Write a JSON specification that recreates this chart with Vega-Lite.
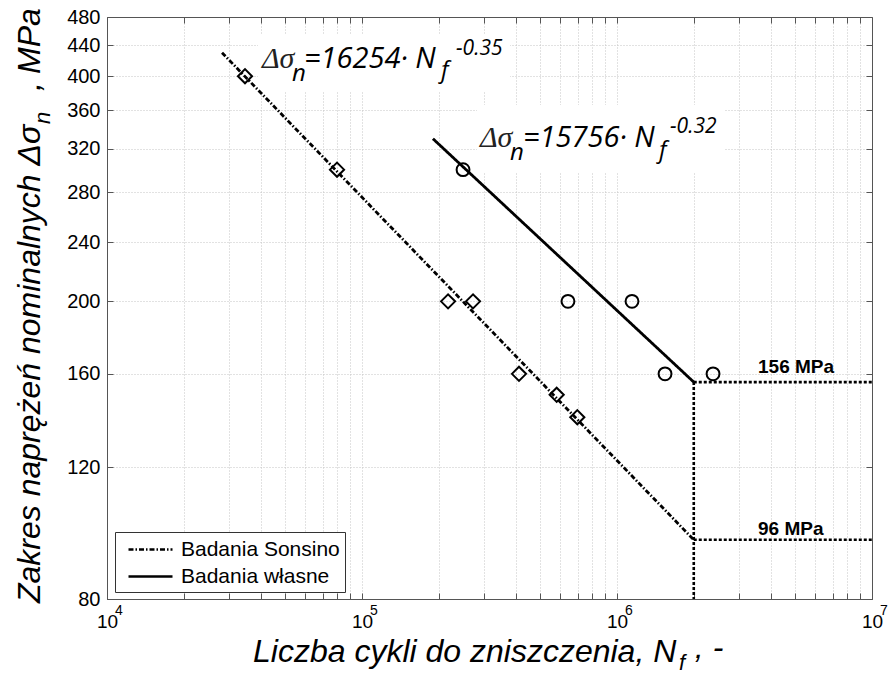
{
  "$schema": "https://vega.github.io/schema/vega-lite/v6.json",
  "width": 765,
  "height": 582,
  "autosize": {"type": "none"},
  "padding": {"left": 107, "top": 17, "right": 16, "bottom": 79},
  "background": "white",
  "config": {
    "view": {"stroke": "#555555", "strokeWidth": 1},
    "font": "Liberation Sans",
    "legend": {
      "orient": "none",
      "legendX": 8,
      "legendY": 515,
      "strokeColor": "#333333",
      "fillColor": "white",
      "padding": 5,
      "rowPadding": 4,
      "symbolOffset": 18,
      "labelOffset": 18,
      "labelFontSize": 21,
      "labelFont": "Liberation Sans",
      "labelColor": "black",
      "labelLimit": 400,
      "symbolType": "M-2,0H2",
      "symbolSize": 484,
      "symbolStrokeWidth": 2.5,
      "symbolStrokeColor": "black",
      "title": null
    }
  },
  "datasets": {
    "fits": [
      {"N": 28250, "S": 430, "series": "Badania Sonsino"},
      {"N": 2000000, "S": 96, "series": "Badania Sonsino"},
      {"N": 189700, "S": 330, "series": "Badania własne"},
      {"N": 2000000, "S": 156, "series": "Badania własne"}
    ],
    "points": [
      {"N": 34770, "S": 400, "study": "Sonsino"},
      {"N": 79800, "S": 300, "study": "Sonsino"},
      {"N": 217500, "S": 200, "study": "Sonsino"},
      {"N": 272500, "S": 200, "study": "Sonsino"},
      {"N": 412700, "S": 160, "study": "Sonsino"},
      {"N": 580000, "S": 150, "study": "Sonsino"},
      {"N": 698800, "S": 140, "study": "Sonsino"},
      {"N": 249000, "S": 300, "study": "własne"},
      {"N": 642300, "S": 200, "study": "własne"},
      {"N": 1145000, "S": 200, "study": "własne"},
      {"N": 1543000, "S": 160, "study": "własne"},
      {"N": 2380000, "S": 160, "study": "własne"}
    ],
    "limits": [
      {"N": 2000000, "S": 156, "N2": 10000000, "S2": 156},
      {"N": 2000000, "S": 96, "N2": 10000000, "S2": 96},
      {"N": 2000000, "S": 156, "N2": 2000000, "S2": 80}
    ],
    "boxes": [
      {"N": 39100, "S": 381.1, "N2": 380500, "S2": 454.2},
      {"N": 282500, "S": 297.9, "N2": 2652000, "S2": 366.1}
    ],
    "texts": [
      {"N": 40530, "S": 410.3, "text": "Δσ", "part": "delta"},
      {"N": 53150, "S": 394.1, "text": "n", "part": "eqsub"},
      {"N": 59230, "S": 410.3, "text": "=16254· N", "part": "eq"},
      {"N": 204100, "S": 397.8, "text": "f", "part": "eqsub"},
      {"N": 233700, "S": 427.0, "text": "-0.35", "part": "eqsup"},
      {"N": 290200, "S": 321.7, "text": "Δσ", "part": "delta"},
      {"N": 380500, "S": 309.1, "text": "n", "part": "eqsub"},
      {"N": 427900, "S": 321.7, "text": "=15756· N", "part": "eq"},
      {"N": 1461000, "S": 311.0, "text": "f", "part": "eqsub"},
      {"N": 1614000, "S": 335.9, "text": "-0.32", "part": "eqsup"},
      {"N": 3572000, "S": 160.4, "text": "156 MPa", "part": "limit"},
      {"N": 3572000, "S": 97.4, "text": "96 MPa", "part": "limit"},
      {"N": 37370, "S": 65.9, "text": "Liczba cykli do zniszczenia, N", "part": "xtitle"},
      {"N": 1751000, "S": 64.29, "text": "f", "part": "xtitlesub"},
      {"N": 2020000, "S": 66.71, "text": ", -", "part": "xtitle"},
      {"N": 5461, "S": 79.02, "text": "Zakres naprężeń nominalnych Δσ", "part": "ytitle"},
      {"N": 5976, "S": 345.3, "text": "n", "part": "ytitlesub"},
      {"N": 5461, "S": 382.2, "text": ",", "part": "ytitle"},
      {"N": 5461, "S": 402.8, "text": "MPa", "part": "ytitle"},
      {"N": 10749, "S": 76.2, "text": "4", "part": "xexp"},
      {"N": 107490, "S": 76.2, "text": "5", "part": "xexp"},
      {"N": 1074900, "S": 76.2, "text": "6", "part": "xexp"},
      {"N": 10749000, "S": 76.2, "text": "7", "part": "xexp"}
    ]
  },
  "layer": [
    {
      "data": {"name": "boxes"},
      "mark": {"type": "rect", "fill": "white", "stroke": null},
      "encoding": {
        "x": {
          "field": "N", "type": "quantitative",
          "scale": {"type": "log", "domain": [10000, 10000000], "nice": false, "zero": false},
          "axis": {
            "orient": "bottom",
            "values": [10000, 20000, 30000, 40000, 50000, 60000, 70000, 80000, 90000, 100000, 200000, 300000, 400000, 500000, 600000, 700000, 800000, 900000, 1000000, 2000000, 3000000, 4000000, 5000000, 6000000, 7000000, 8000000, 9000000, 10000000],
            "labelExpr": "datum.value == 10000 || datum.value == 100000 || datum.value == 1000000 || datum.value == 10000000 ? '10' : ''",
            "labelDx": -5,
            "title": null,
            "grid": true,
            "gridColor": "#c4c4c4",
            "gridDash": [1, 2],
            "gridWidth": 1,
            "domainColor": "#555555",
            "tickColor": "#555555",
            "tickSize": -6,
            "labelPadding": 19,
            "labelFontSize": 19,
            "labelColor": "black",
            "labelFont": "Liberation Sans",
            "labelOverlap": false,
            "labelFlush": false,
            "labelBound": false
          }
        },
        "x2": {"field": "N2"},
        "y": {
          "field": "S", "type": "quantitative",
          "scale": {"type": "log", "domain": [80, 480], "nice": false, "zero": false},
          "axis": {
            "orient": "left",
            "values": [80, 120, 160, 200, 240, 280, 320, 360, 400, 440, 480],
            "title": null,
            "grid": true,
            "gridColor": "#c4c4c4",
            "gridDash": [1, 2],
            "gridWidth": 1,
            "domainColor": "#555555",
            "tickColor": "#555555",
            "tickSize": -6,
            "labelPadding": 13,
            "labelFontSize": 20,
            "labelColor": "black",
            "labelFont": "Liberation Sans",
            "labelOverlap": false,
            "labelFlush": false,
            "labelBound": false
          }
        },
        "y2": {"field": "S2"}
      }
    },
    {
      "data": {"name": "limits"},
      "mark": {"type": "rule", "color": "black", "strokeWidth": 2.6, "strokeDash": [3, 2]},
      "encoding": {
        "x": {
          "field": "N", "type": "quantitative",
          "scale": {"type": "log", "domain": [10000, 10000000], "nice": false, "zero": false},
          "axis": {
            "orient": "top",
            "values": [20000, 30000, 40000, 50000, 60000, 70000, 80000, 90000, 100000, 200000, 300000, 400000, 500000, 600000, 700000, 800000, 900000, 1000000, 2000000, 3000000, 4000000, 5000000, 6000000, 7000000, 8000000, 9000000],
            "labels": false, "title": null, "grid": false,
            "domainColor": "#555555", "tickColor": "#555555", "tickSize": -6
          }
        },
        "x2": {"field": "N2"},
        "y": {
          "field": "S", "type": "quantitative",
          "scale": {"type": "log", "domain": [80, 480], "nice": false, "zero": false},
          "axis": {
            "orient": "right",
            "values": [120, 160, 200, 240, 280, 320, 360, 400, 440],
            "labels": false, "title": null, "grid": false,
            "domainColor": "#555555", "tickColor": "#555555", "tickSize": -6
          }
        },
        "y2": {"field": "S2"}
      }
    },
    {
      "data": {"name": "fits"},
      "mark": {"type": "line", "color": "black", "strokeWidth": 2.8},
      "encoding": {
        "x": {"field": "N", "type": "quantitative", "scale": {"type": "log", "domain": [10000, 10000000], "nice": false, "zero": false}, "axis": null},
        "y": {"field": "S", "type": "quantitative", "scale": {"type": "log", "domain": [80, 480], "nice": false, "zero": false}, "axis": null},
        "strokeDash": {
          "field": "series", "type": "nominal",
          "scale": {"domain": ["Badania Sonsino", "Badania własne"], "range": [[5, 2, 1.5, 2], [1, 0]]},
          "legend": {"title": null}
        }
      }
    },
    {
      "data": {"name": "points"},
      "transform": [{"filter": "datum.study == 'Sonsino'"}],
      "mark": {"type": "point", "shape": "diamond", "filled": false, "color": "black", "strokeWidth": 2, "size": 200, "opacity": 1},
      "encoding": {
        "x": {"field": "N", "type": "quantitative", "scale": {"type": "log", "domain": [10000, 10000000], "nice": false, "zero": false}, "axis": null},
        "y": {"field": "S", "type": "quantitative", "scale": {"type": "log", "domain": [80, 480], "nice": false, "zero": false}, "axis": null}
      }
    },
    {
      "data": {"name": "points"},
      "transform": [{"filter": "datum.study == 'własne'"}],
      "mark": {"type": "point", "shape": "circle", "filled": false, "color": "black", "strokeWidth": 2, "size": 165, "opacity": 1},
      "encoding": {
        "x": {"field": "N", "type": "quantitative", "scale": {"type": "log", "domain": [10000, 10000000], "nice": false, "zero": false}, "axis": null},
        "y": {"field": "S", "type": "quantitative", "scale": {"type": "log", "domain": [80, 480], "nice": false, "zero": false}, "axis": null}
      }
    },
    {
      "data": {"name": "texts"},
      "transform": [{"filter": "datum.part == 'delta'"}],
      "mark": {"type": "text", "font": "Liberation Serif", "fontStyle": "italic", "fontSize": 30, "align": "left", "baseline": "alphabetic", "color": "#222222"},
      "encoding": {
        "x": {"field": "N", "type": "quantitative", "scale": {"type": "log", "domain": [10000, 10000000], "nice": false, "zero": false}, "axis": null},
        "y": {"field": "S", "type": "quantitative", "scale": {"type": "log", "domain": [80, 480], "nice": false, "zero": false}, "axis": null},
        "text": {"field": "text"}
      }
    },
    {
      "data": {"name": "texts"},
      "transform": [{"filter": "datum.part == 'eq'"}],
      "mark": {"type": "text", "font": "Open Sans", "fontStyle": "italic", "fontSize": 29, "align": "left", "baseline": "alphabetic", "color": "black"},
      "encoding": {
        "x": {"field": "N", "type": "quantitative", "scale": {"type": "log", "domain": [10000, 10000000], "nice": false, "zero": false}, "axis": null},
        "y": {"field": "S", "type": "quantitative", "scale": {"type": "log", "domain": [80, 480], "nice": false, "zero": false}, "axis": null},
        "text": {"field": "text"}
      }
    },
    {
      "data": {"name": "texts"},
      "transform": [{"filter": "datum.part == 'eqsub'"}],
      "mark": {"type": "text", "font": "Open Sans", "fontStyle": "italic", "fontSize": 24, "align": "left", "baseline": "alphabetic", "color": "black"},
      "encoding": {
        "x": {"field": "N", "type": "quantitative", "scale": {"type": "log", "domain": [10000, 10000000], "nice": false, "zero": false}, "axis": null},
        "y": {"field": "S", "type": "quantitative", "scale": {"type": "log", "domain": [80, 480], "nice": false, "zero": false}, "axis": null},
        "text": {"field": "text"}
      }
    },
    {
      "data": {"name": "texts"},
      "transform": [{"filter": "datum.part == 'eqsup'"}],
      "mark": {"type": "text", "font": "Open Sans", "fontStyle": "italic", "fontSize": 21, "align": "left", "baseline": "alphabetic", "color": "black"},
      "encoding": {
        "x": {"field": "N", "type": "quantitative", "scale": {"type": "log", "domain": [10000, 10000000], "nice": false, "zero": false}, "axis": null},
        "y": {"field": "S", "type": "quantitative", "scale": {"type": "log", "domain": [80, 480], "nice": false, "zero": false}, "axis": null},
        "text": {"field": "text"}
      }
    },
    {
      "data": {"name": "texts"},
      "transform": [{"filter": "datum.part == 'limit'"}],
      "mark": {"type": "text", "font": "Liberation Sans", "fontWeight": "bold", "fontSize": 19, "align": "left", "baseline": "alphabetic", "color": "black"},
      "encoding": {
        "x": {"field": "N", "type": "quantitative", "scale": {"type": "log", "domain": [10000, 10000000], "nice": false, "zero": false}, "axis": null},
        "y": {"field": "S", "type": "quantitative", "scale": {"type": "log", "domain": [80, 480], "nice": false, "zero": false}, "axis": null},
        "text": {"field": "text"}
      }
    },
    {
      "data": {"name": "texts"},
      "transform": [{"filter": "datum.part == 'xexp'"}],
      "mark": {"type": "text", "font": "Liberation Sans", "fontSize": 14, "align": "left", "baseline": "alphabetic", "color": "black"},
      "encoding": {
        "x": {"field": "N", "type": "quantitative", "scale": {"type": "log", "domain": [10000, 10000000], "nice": false, "zero": false}, "axis": null},
        "y": {"field": "S", "type": "quantitative", "scale": {"type": "log", "domain": [80, 480], "nice": false, "zero": false}, "axis": null},
        "text": {"field": "text"}
      }
    },
    {
      "data": {"name": "texts"},
      "transform": [{"filter": "datum.part == 'xtitle'"}],
      "mark": {"type": "text", "font": "Liberation Sans", "fontStyle": "italic", "fontSize": 32, "align": "left", "baseline": "alphabetic", "color": "black"},
      "encoding": {
        "x": {"field": "N", "type": "quantitative", "scale": {"type": "log", "domain": [10000, 10000000], "nice": false, "zero": false}, "axis": null},
        "y": {"field": "S", "type": "quantitative", "scale": {"type": "log", "domain": [80, 480], "nice": false, "zero": false}, "axis": null},
        "text": {"field": "text"}
      }
    },
    {
      "data": {"name": "texts"},
      "transform": [{"filter": "datum.part == 'xtitlesub'"}],
      "mark": {"type": "text", "font": "Liberation Sans", "fontStyle": "italic", "fontSize": 22, "align": "left", "baseline": "alphabetic", "color": "black"},
      "encoding": {
        "x": {"field": "N", "type": "quantitative", "scale": {"type": "log", "domain": [10000, 10000000], "nice": false, "zero": false}, "axis": null},
        "y": {"field": "S", "type": "quantitative", "scale": {"type": "log", "domain": [80, 480], "nice": false, "zero": false}, "axis": null},
        "text": {"field": "text"}
      }
    },
    {
      "data": {"name": "texts"},
      "transform": [{"filter": "datum.part == 'ytitle'"}],
      "mark": {"type": "text", "font": "Liberation Sans", "fontStyle": "italic", "fontSize": 32, "align": "left", "baseline": "alphabetic", "angle": 270, "color": "black"},
      "encoding": {
        "x": {"field": "N", "type": "quantitative", "scale": {"type": "log", "domain": [10000, 10000000], "nice": false, "zero": false}, "axis": null},
        "y": {"field": "S", "type": "quantitative", "scale": {"type": "log", "domain": [80, 480], "nice": false, "zero": false}, "axis": null},
        "text": {"field": "text"}
      }
    },
    {
      "data": {"name": "texts"},
      "transform": [{"filter": "datum.part == 'ytitlesub'"}],
      "mark": {"type": "text", "font": "Liberation Sans", "fontStyle": "italic", "fontSize": 22, "align": "left", "baseline": "alphabetic", "angle": 270, "color": "black"},
      "encoding": {
        "x": {"field": "N", "type": "quantitative", "scale": {"type": "log", "domain": [10000, 10000000], "nice": false, "zero": false}, "axis": null},
        "y": {"field": "S", "type": "quantitative", "scale": {"type": "log", "domain": [80, 480], "nice": false, "zero": false}, "axis": null},
        "text": {"field": "text"}
      }
    }
  ],
  "resolve": {"axis": {"x": "independent", "y": "independent"}}
}
